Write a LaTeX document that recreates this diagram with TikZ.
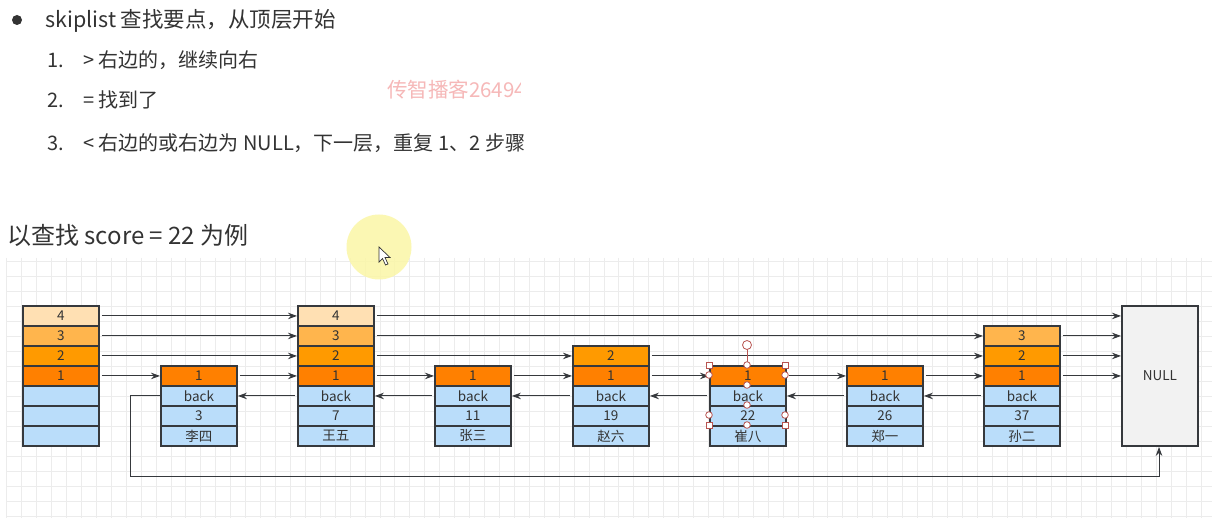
\documentclass[tikz,border=0pt]{standalone}
\usepackage{fontspec}
\setmainfont{Noto Sans CJK SC}
\usetikzlibrary{arrows.meta}
\definecolor{bord}{HTML}{36393D}
\definecolor{txt}{HTML}{333333}
\definecolor{cA}{HTML}{FFE0B3}
\definecolor{cB}{HTML}{FFB54D}
\definecolor{cC}{HTML}{FF9A00}
\definecolor{cD}{HTML}{FF8000}
\definecolor{cE}{HTML}{BADDFA}
\definecolor{nullc}{HTML}{F2F2F2}
\definecolor{gridc}{HTML}{ECECEC}
\definecolor{wm}{HTML}{F6B8B8}
\definecolor{hand}{HTML}{B85450}
\definecolor{hilite}{HTML}{FBF6A6}
\newcommand\mkcell[5]{\node[cell, fill=#4] (#1) at (#2,#3) {#5};}
\begin{document}
\begin{tikzpicture}[x=1pt,y=-1pt,
  cell/.style={draw=bord, line width=1.9pt, minimum width=76pt, minimum height=20pt,
    inner sep=0pt, anchor=north west, font=\fontsize{13.5}{13.5}\selectfont, text=txt},
  arr/.style={draw=bord, line width=1pt, shorten <=2pt, -{Stealth[length=9pt,width=6.5pt]}},
  loopline/.style={draw=bord, line width=1pt, -{Stealth[length=9pt,width=6.5pt]}},
  big/.style={anchor=base west, text=txt, inner sep=0pt, font=\fontsize{21.5}{26}\selectfont},
  item/.style={anchor=base west, text=txt, inner sep=0pt, font=\fontsize{20}{24}\selectfont},
  handlesq/.style={draw=hand, fill=white, line width=0.8pt},
]
\useasboundingbox (0,0) rectangle (1230,518);
\fill[white] (0,0) rectangle (1230,518);
% grid
\foreach \i in {0,...,80} {\draw[gridc, line width=0.8pt] (6.7+14.93*\i,258) -- (6.7+14.93*\i,518);}
\foreach \j in {0,...,17} {\draw[gridc, line width=0.8pt] (7,261.7+15*\j) -- (1212,261.7+15*\j);}

% texts
\node[circle, fill=txt, inner sep=0pt, minimum size=10pt] (bullet) at (17,20) {};
\node[big] (title) at (45,28) {skiplist 查找要点，从顶层开始};
\node[item] (n1) at (47,68) {1.};
\node[item] (s1txt) at (83,68) {> 右边的，继续向右};
\node[item] (n2) at (47,108) {2.};
\node[item] (s2txt) at (83,108) {= 找到了};
\node[item] (n3) at (47,151) {3.};
\node[item] (s3txt) at (83,151) {< 右边的或右边为 NULL，下一层，重复 1、2 步骤};
\begin{scope}
\clip (380,70) rectangle (520,110);
\node[anchor=base west, inner sep=0pt, text=wm, font=\fontsize{20.5}{22}\selectfont] (wmark) at (387,98) {传智播客26494};
\end{scope}
\node[big, font=\fontsize{24}{28}\selectfont] (example) at (7,245) {以查找 score = 22 为例};

% highlight circle
\fill[hilite, opacity=0.85] (379,247) circle (32.5);

% header column
\mkcell{h4}{22}{305}{cA}{4}
\mkcell{h3}{22}{325}{cB}{3}
\mkcell{h2}{22}{345}{cC}{2}
\mkcell{h1}{22}{365}{cD}{1}
\mkcell{hx}{22}{385}{cE}{}
\mkcell{hy}{22}{405}{cE}{}
\mkcell{hz}{22}{425}{cE}{}
% li si
\mkcell{li1}{160}{365}{cD}{1}
\mkcell{lib}{160}{385}{cE}{back}
\mkcell{lik}{160}{405}{cE}{3}
\mkcell{lin}{160}{425}{cE}{李四}
% wang wu
\mkcell{w4}{297}{305}{cA}{4}
\mkcell{w3}{297}{325}{cB}{3}
\mkcell{w2}{297}{345}{cC}{2}
\mkcell{w1}{297}{365}{cD}{1}
\mkcell{wb}{297}{385}{cE}{back}
\mkcell{wk}{297}{405}{cE}{7}
\mkcell{wn}{297}{425}{cE}{王五}
% zhang san
\mkcell{z1}{434}{365}{cD}{1}
\mkcell{zb}{434}{385}{cE}{back}
\mkcell{zk}{434}{405}{cE}{11}
\mkcell{zn}{434}{425}{cE}{张三}
% zhao liu
\mkcell{s2}{572}{345}{cC}{2}
\mkcell{s1}{572}{365}{cD}{1}
\mkcell{sb}{572}{385}{cE}{back}
\mkcell{sk}{572}{405}{cE}{19}
\mkcell{sn}{572}{425}{cE}{赵六}
% cui ba
\mkcell{c1}{709}{365}{cD}{1}
\mkcell{cb}{709}{385}{cE}{back}
\mkcell{ck}{709}{405}{cE}{22}
\mkcell{cn}{709}{425}{cE}{崔八}
% zheng yi
\mkcell{e1}{846}{365}{cD}{1}
\mkcell{eb}{846}{385}{cE}{back}
\mkcell{ek}{846}{405}{cE}{26}
\mkcell{en}{846}{425}{cE}{郑一}
% sun er
\mkcell{t3}{983}{325}{cB}{3}
\mkcell{t2}{983}{345}{cC}{2}
\mkcell{t1}{983}{365}{cD}{1}
\mkcell{tb}{983}{385}{cE}{back}
\mkcell{tk}{983}{405}{cE}{37}
\mkcell{tn}{983}{425}{cE}{孙二}
% NULL
\node[cell, fill=nullc, minimum height=140pt] (null) at (1121,305) {NULL};

% level 4
\draw[arr] (h4.east) -- (w4.west);
\draw[arr] (w4.east) -- (w4.east -| null.west);
% level 3
\draw[arr] (h3.east) -- (w3.west);
\draw[arr] (w3.east) -- (t3.west);
\draw[arr] (t3.east) -- (t3.east -| null.west);
% level 2
\draw[arr] (h2.east) -- (w2.west);
\draw[arr] (w2.east) -- (s2.west);
\draw[arr] (s2.east) -- (t2.west);
\draw[arr] (t2.east) -- (t2.east -| null.west);
% level 1
\draw[arr] (h1.east) -- (li1.west);
\draw[arr] (li1.east) -- (w1.west);
\draw[arr] (w1.east) -- (z1.west);
\draw[arr] (z1.east) -- (s1.west);
\draw[arr] (s1.east) -- (c1.west);
\draw[arr] (c1.east) -- (e1.west);
\draw[arr] (e1.east) -- (t1.west);
\draw[arr] (t1.east) -- (t1.east -| null.west);
% back pointers
\draw[arr] (wb.west) -- (lib.east);
\draw[arr] (zb.west) -- (wb.east);
\draw[arr] (sb.west) -- (zb.east);
\draw[arr] (cb.west) -- (sb.east);
\draw[arr] (eb.west) -- (cb.east);
\draw[arr] (tb.west) -- (eb.east);
% loop to NULL
\coordinate (bl) at (130,476);
\coordinate (br) at (1159,476);
\draw[loopline] (lib.west) -| (bl) -- (br) -- (br |- null.south);

% selection handles on cui ba
\draw[hand, line width=0.8pt] (747,345) -- (747,365);
\draw[handlesq] (747,345) circle (4.5);
\foreach \p in {(709,365),(785,365),(709,425),(785,425)} {\draw[handlesq] \p ++(-3,-3) rectangle ++(6,6);}
\foreach \p in {(747,365),(747,385),(747,405),(747,425),(709,375),(709,415),(785,375),(785,415)} {\draw[handlesq] \p circle (3.3);}

% cursor
\draw[fill=white, draw=txt, line width=0.7pt] (379,247) -- (379,262) -- (382.5,258.5) -- (385.5,265) -- (388,264) -- (385,257.5) -- (390,257.5) -- cycle;
\end{tikzpicture}
\end{document}
